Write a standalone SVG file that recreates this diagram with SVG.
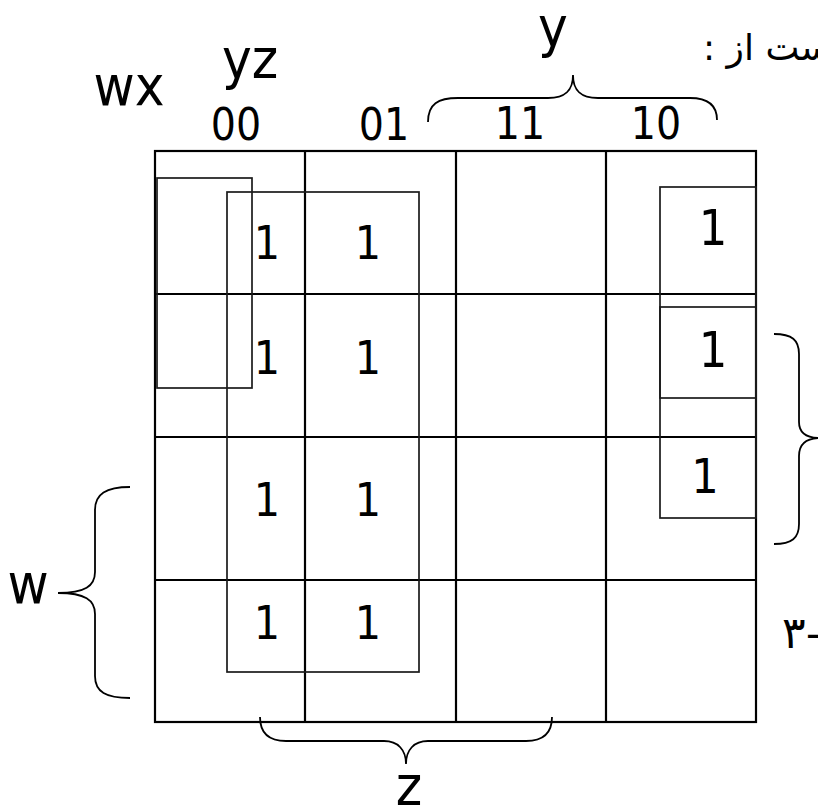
<svg xmlns="http://www.w3.org/2000/svg" width="818" height="807" viewBox="0 0 818 807">
  <style>
    .grid { fill: none; stroke: #000; stroke-width: 2.2; }
    .loop { fill: none; stroke: #1a1a1a; stroke-width: 1.7; }
    .brace { fill: none; stroke: #000; stroke-width: 1.8; }
    .t { font-family: "DejaVu Sans Condensed", "DejaVu Sans", sans-serif; fill: #000; text-anchor: middle; }
    .hdr { font-size: 44px; }
    .one { font-size: 46px; }
    .var { font-size: 56px; }
    .fa { font-family: "DejaVu Sans", sans-serif; fill: #000; }
  </style>

  <rect width="818" height="807" fill="#fff"/>

  <!-- Karnaugh map grid -->
  <g id="grid" class="grid">
    <rect x="155" y="151" width="601" height="571"/>
    <line x1="305" y1="151" x2="305" y2="722"/>
    <line x1="456" y1="151" x2="456" y2="722"/>
    <line x1="606" y1="151" x2="606" y2="722"/>
    <line x1="155" y1="294" x2="756" y2="294"/>
    <line x1="155" y1="437" x2="756" y2="437"/>
    <line x1="155" y1="580" x2="756" y2="580"/>
  </g>

  <!-- grouping loops -->
  <g id="loops" class="loop">
    <rect id="loop-a" x="157" y="178" width="95" height="210"/>
    <rect id="loop-b" x="227" y="192" width="192" height="480"/>
    <rect id="loop-c" x="660" y="187" width="96" height="211"/>
    <rect id="loop-d" x="660" y="307" width="96" height="211"/>
  </g>

  <!-- column / row headings -->
  <g id="headings" class="t">
    <text class="var" x="129" y="105">wx</text>
    <text class="var" x="250" y="78">yz</text>
    <text class="hdr" x="236" y="140">00</text>
    <text class="hdr" x="384" y="140">01</text>
    <text class="hdr" x="520" y="139">11</text>
    <text class="hdr" x="656" y="139">10</text>
  </g>

  <!-- cell values -->
  <g id="cells" class="t">
    <text class="one" x="267" y="259">1</text>
    <text class="one" x="368" y="259">1</text>
    <text class="one" x="267" y="374">1</text>
    <text class="one" x="368" y="374">1</text>
    <text class="one" x="267" y="516">1</text>
    <text class="one" x="368" y="516">1</text>
    <text class="one" x="267" y="639">1</text>
    <text class="one" x="368" y="639">1</text>
    <text class="one" x="713" y="245" style="font-size:50px">1</text>
    <text class="one" x="713" y="367" style="font-size:50px">1</text>
    <text class="one" x="705" y="493" style="font-size:48px">1</text>
  </g>

  <!-- variable braces -->
  <g id="braces" class="brace">
    <path id="brace-y" d="M428,122 C428,104 438,98 458,98 L548,98 C566,98 573,90 573,75 C573,90 580,98 598,98 L690,98 C708,98 717,106 717,120"/>
    <path id="brace-w" d="M130,487 C106,487 95,494 95,510 L95,572 C95,586 85,593 58,593 C85,593 95,600 95,614 L95,676 C95,692 106,698 130,698"/>
    <path id="brace-x" d="M774,334 C792,334 799,340 799,354 L799,422 C799,432 806,438 820,438 C806,438 799,444 799,456 L799,524 C799,538 792,544 774,544"/>
    <path id="brace-z" d="M260,717 C260,733 268,741 286,741 L384,741 C398,741 406,750 406,764 C406,750 414,741 428,741 L526,741 C544,741 552,733 552,717"/>
  </g>

  <g id="brace-labels" class="t">
    <text class="var" x="553" y="46">y</text>
    <text class="var" x="28" y="603">w</text>
    <text class="var" x="409" y="805">z</text>
  </g>

  <!-- side captions (run past the right edge) -->
  <g id="captions">
    <text class="fa" x="703" y="60" direction="rtl" text-anchor="end" font-size="36">عبارتست از :</text>
    <text class="fa" x="782" y="648" font-size="44">۳</text>
    <text class="fa" x="806" y="648" font-size="40">-</text>
  </g>
</svg>
